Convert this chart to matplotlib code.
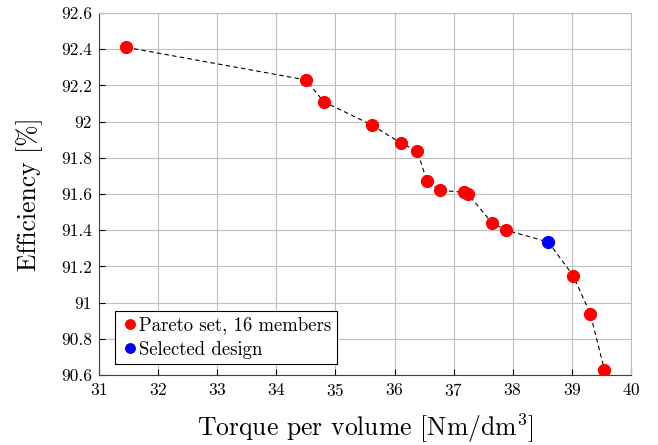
import numpy as np
import matplotlib
matplotlib.use("Agg")
import matplotlib.pyplot as plt

# Pareto front values
torque = [31.46, 34.50, 34.80, 35.62, 36.11, 36.38, 36.55, 36.77, 37.18, 37.24,
          37.65, 37.89, 38.60, 39.02, 39.31, 39.55]
eff = [92.41, 92.23, 92.11, 91.98, 91.88, 91.84, 91.67, 91.62, 91.61, 91.60,
       91.44, 91.40, 91.335, 91.15, 90.94, 90.63]
selected_idx = 12

plt.rcParams['font.family'] = 'serif'
plt.rcParams['font.serif'] = ['cmr10']
plt.rcParams['mathtext.fontset'] = 'cm'
plt.rcParams['axes.formatter.use_mathtext'] = True

fig = plt.figure(figsize=(6.58, 4.45), dpi=100)
ax = fig.add_axes([0.1505, 0.157, 0.8085, 0.814])

ax.plot(torque, eff, '--', color='black', linewidth=0.8, dashes=(4, 3), zorder=2)
red_x = [t for i, t in enumerate(torque) if i != selected_idx]
red_y = [e for i, e in enumerate(eff) if i != selected_idx]
ax.plot(red_x, red_y, 'o', color='red', markersize=8.5, linestyle='none',
        label='Pareto set, 16 members', zorder=3)
ax.plot(torque[selected_idx], eff[selected_idx], 'o', color='blue', markersize=8.5,
        linestyle='none', label='Selected design', zorder=3)

ax.set_xlim(31, 40)
ax.set_ylim(90.6, 92.6)
ax.set_xticks(np.arange(31, 41, 1))
ax.set_yticks(np.arange(90.6, 92.61, 0.2))
ax.set_yticklabels(['90.6', '90.8', '91', '91.2', '91.4', '91.6', '91.8', '92', '92.2', '92.4', '92.6'])
ax.tick_params(direction='in', labelsize=12.5, length=4, width=0.8, pad=5)
ax.grid(True, color='#bfbfbf', linewidth=0.8)
ax.set_axisbelow(True)
for s in ['top', 'right']:
    ax.spines[s].set_color('#bfbfbf')
for s in ['left', 'bottom']:
    ax.spines[s].set_color('#404040')

ax.set_xlabel(r'Torque per volume [Nm/dm$^3$]', fontsize=18.5, labelpad=9)
ax.set_ylabel(r'Efficiency [%]', fontsize=18.5, labelpad=13)

leg = ax.legend(loc='lower left', fontsize=13.5, handletextpad=0.0, handlelength=1.0,
                markerscale=0.8, fancybox=False, framealpha=1, edgecolor='black',
                borderpad=0.3, labelspacing=0.35, borderaxespad=0,
                bbox_to_anchor=(0.03, 0.03))
leg.get_frame().set_linewidth(0.8)

fig.savefig('out.png', dpi=100)
